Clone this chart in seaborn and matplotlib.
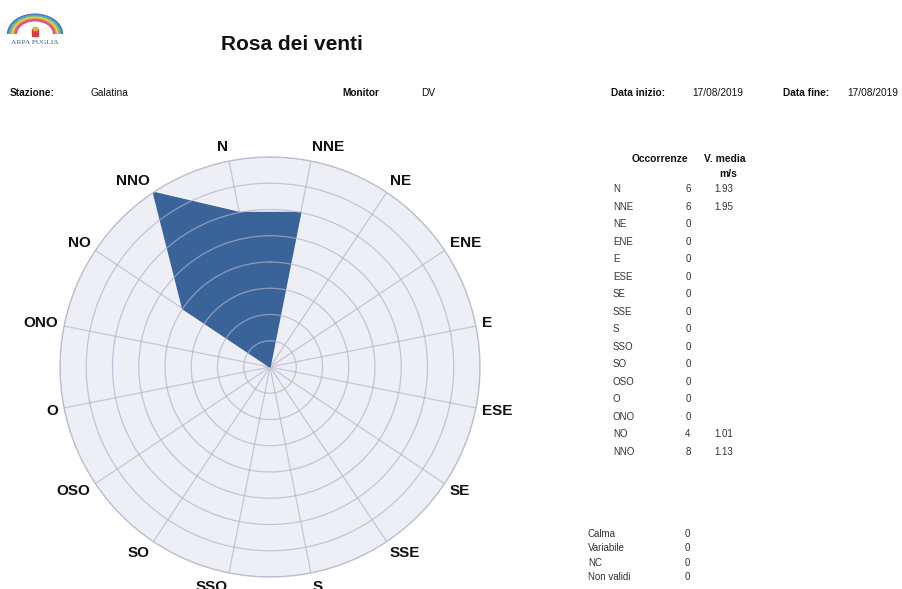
import numpy as np
import pandas as pd
import matplotlib
matplotlib.use("Agg")
import matplotlib.pyplot as plt
from matplotlib.patches import Arc, Rectangle
import seaborn as sns

# ---------------- data ----------------
directions = ["N", "NNE", "NE", "ENE", "E", "ESE", "SE", "SSE",
              "S", "SSO", "SO", "OSO", "O", "ONO", "NO", "NNO"]
occurrences = [6, 6, 0, 0, 0, 0, 0, 0, 0, 0, 0, 0, 0, 0, 4, 8]
mean_speed = ["1.93", "1.95", "", "", "", "", "", "", "", "", "", "", "", "", "1.01", "1.13"]
extra_labels = ["Calma", "Variabile", "NC", "Non validi"]
extra_values = [0, 0, 0, 0]
r_ticks = [1, 2, 3, 4, 5, 6, 7, 8]

title = "Rosa dei venti"
header = [("Stazione:", True, 10), ("Galatina", False, 91),
          ("Monitor", True, 342), ("DV", False, 421),
          ("Data inizio:", True, 611), ("17/08/2019", False, 692),
          ("Data fine:", True, 783), ("17/08/2019", False, 847)]

# ---------------- style ----------------
sns.set_theme(style="white")
plt.rcParams["font.family"] = ["Liberation Sans", "DejaVu Sans"]

W, H = 903, 589
fig = plt.figure(figsize=(W / 100, H / 100), dpi=100)
fig.patch.set_facecolor("white")


def fx(x):
    return x / W


def fy(y):
    return 1 - y / H


BLUE = "#3a6399"
BG = "#eeeef5"
SPOKE = "#c3c6d8"
RING = "#aeb3cc"

# ---------------- polar chart ----------------
cx, cy, R = 270, 367, 210
ax = fig.add_axes([fx(cx - R), fy(cy + R), 2 * R / W, 2 * R / H], projection="polar")
ax.set_theta_zero_location("N")
ax.set_theta_direction(-1)
ax.set_facecolor(BG)

theta = np.deg2rad(np.arange(len(directions)) * 22.5 - 11.25)
df = pd.DataFrame({"theta": np.append(theta, theta[0] + 2 * np.pi),
                   "value": occurrences + [occurrences[0]]})

ax.fill(df["theta"], df["value"], color=BLUE, zorder=1, lw=0)
sns.lineplot(data=df, x="theta", y="value", ax=ax, sort=False, estimator=None,
             color=BLUE, lw=1.0, zorder=1.5)

ax.set_xlim(0, 2 * np.pi)
ax.set_ylim(0, max(r_ticks))
ax.set_yticks(r_ticks)
ax.set_yticklabels([])
ax.set_xticks(np.mod(theta, 2 * np.pi))
ax.set_xticklabels([])
ax.set_xlabel("")
ax.set_ylabel("")
ax.tick_params(length=0)
ax.xaxis.grid(True, color=SPOKE, lw=0.9)
ax.yaxis.grid(True, color=RING, lw=0.9, alpha=0.7)
ax.xaxis.set_zorder(0.5)
ax.yaxis.set_zorder(2.5)
ax.spines["polar"].set_color(SPOKE)
ax.spines["polar"].set_linewidth(1.0)

# direction labels
for th, lab in zip(theta, directions):
    s, c = np.sin(th), np.cos(th)
    ha = "left" if s > 0 else "right"
    dx = 6 * s * 0.72
    dy = (5 * c + 9 * c) * 0.72
    ax.annotate(lab, xy=(np.mod(th, 2 * np.pi), max(r_ticks)), xytext=(dx, dy),
                textcoords="offset points", ha=ha, va="center",
                fontsize=11, fontweight="bold", color="#111111",
                annotation_clip=False)

# ---------------- header ----------------
fig.text(fx(292), fy(45), title, ha="center", va="center",
         fontsize=15, fontweight="bold", color="#111111")
for txt, bold, x in header:
    fig.text(fx(x), fy(93), txt, ha="left", va="center", fontsize=7.3,
             fontweight="bold" if bold else "normal", color="#111111")

# logo
lax = fig.add_axes([fx(5), fy(50), 60 / W, 40 / H])
lax.set_xlim(0, 60)
lax.set_ylim(40, 0)
lax.axis("off")
rainbow = ["#5a6fc0", "#44a8d0", "#7cc46a", "#f0d24a", "#f08c50", "#d9508a"]
for i, col in enumerate(rainbow):
    d = 54 - i * 3.2
    lax.add_patch(Arc((30, 24), d, d * 0.72, theta1=180, theta2=360,
                      color=col, lw=1.6))
lax.add_patch(Rectangle((26.5, 19), 6, 7, color="#d04040"))
lax.add_patch(Rectangle((27.5, 17), 4, 2.5, color="#e0b040"))
lax.text(30, 33, "ARPA PUGLIA", ha="center", va="center", fontsize=5.3,
         family=["Liberation Serif", "DejaVu Serif"], color="#3a5a8a")

# ---------------- table ----------------
fig.text(fx(660), fy(159), "Occorrenze", ha="center", va="center",
         fontsize=7.4, fontweight="bold", color="#111111")
fig.text(fx(725), fy(159), "V. media", ha="center", va="center",
         fontsize=7.4, fontweight="bold", color="#111111")
fig.text(fx(728), fy(174), "m/s", ha="center", va="center",
         fontsize=7.4, fontweight="bold", color="#111111")
for i, (d, o, v) in enumerate(zip(directions, occurrences, mean_speed)):
    y = 189.3 + 17.5 * i
    fig.text(fx(613), fy(y), d, ha="left", va="center", fontsize=7, color="#333333")
    fig.text(fx(688), fy(y), str(o), ha="center", va="center", fontsize=7, color="#333333")
    if v:
        fig.text(fx(714), fy(y), v, ha="left", va="center", fontsize=7, color="#333333")

for i, (lab, val) in enumerate(zip(extra_labels, extra_values)):
    y = 534 + 14.4 * i
    fig.text(fx(588), fy(y), lab, ha="left", va="center", fontsize=7, color="#333333")
    fig.text(fx(687), fy(y), str(val), ha="center", va="center", fontsize=7, color="#333333")

fig.savefig("out.png", dpi=100)
